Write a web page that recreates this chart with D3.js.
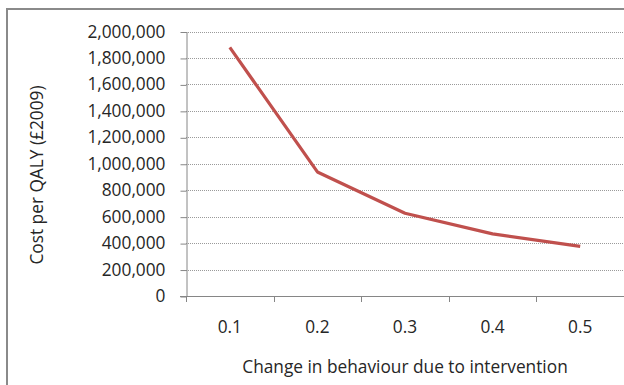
<!DOCTYPE html>
<html>
<head>
<meta charset="utf-8">
<script src="https://cdn.jsdelivr.net/npm/d3@7"></script>
<style>
  html, body { margin: 0; padding: 0; background: #fff; }
  svg { display: block; }
  text { font-family: "Open Sans", Lato, sans-serif; fill: #262626; }
</style>
</head>
<body>
<svg id="chart" width="624" height="385"></svg>
<script>
// Change in behaviour due to intervention (category axis)
const categories = ["0.1", "0.2", "0.3", "0.4", "0.5"];
// Cost per QALY, £2009
const costPerQaly = [1880000, 938000, 626000, 470000, 375000];
// Value axis ticks
const yTicks = [0, 200000, 400000, 600000, 800000, 1000000, 1200000, 1400000, 1600000, 1800000, 2000000];

const svg = d3.select("#chart");
const plot = { left: 186, right: 624, top: 31.5, bottom: 296 };
const fontSize = "17.3px";

// Outer chart frame
svg.append("rect")
  .attr("x", 7).attr("y", 9)
  .attr("width", 640).attr("height", 400)
  .attr("fill", "none")
  .attr("stroke", "#8a8a8a")
  .attr("stroke-width", 2);

const x = d3.scaleBand().domain(categories).range([plot.left, plot.right]).padding(0);
const y = d3.scaleLinear().domain([0, 2000000]).range([plot.bottom, plot.top]);

// Dotted horizontal gridlines
svg.append("g")
  .selectAll("line")
  .data(yTicks.filter(d => d > 0))
  .join("line")
  .attr("x1", plot.left).attr("x2", plot.right)
  .attr("y1", d => Math.round(y(d)) + 0.5).attr("y2", d => Math.round(y(d)) + 0.5)
  .attr("stroke", "#9a9a9a")
  .attr("stroke-width", 1)
  .attr("stroke-dasharray", "1,1");

// Value axis
const yAxis = svg.append("g")
  .attr("transform", `translate(${plot.left + 0.5},0)`)
  .call(d3.axisLeft(y).tickValues(yTicks).tickFormat(d3.format(",")).tickSize(6).tickPadding(15).tickSizeOuter(0));
yAxis.selectAll(".tick line").attr("stroke", "#868686").attr("transform", "translate(0,0.5)");
yAxis.select(".domain").attr("stroke", "#868686");
yAxis.selectAll("text").style("font-size", fontSize).attr("fill", "#262626").attr("font-family", "Open Sans");

// Category axis: line, boundary ticks, centred labels
const xg = svg.append("g");
xg.append("line")
  .attr("x1", plot.left - 6).attr("x2", plot.right)
  .attr("y1", plot.bottom + 0.5).attr("y2", plot.bottom + 0.5)
  .attr("stroke", "#868686");
const edges = categories.map(c => x(c)).concat([x(categories[categories.length - 1]) + x.bandwidth()]);
xg.selectAll("line.tk")
  .data(edges)
  .join("line")
  .attr("class", "tk")
  .attr("x1", d => Math.round(d) + 0.5).attr("x2", d => Math.round(d) + 0.5)
  .attr("y1", plot.bottom).attr("y2", plot.bottom + 6)
  .attr("stroke", "#868686");
xg.selectAll("text")
  .data(categories)
  .join("text")
  .attr("x", d => x(d) + x.bandwidth() / 2)
  .attr("y", 333)
  .attr("text-anchor", "middle")
  .style("font-size", fontSize)
  .text(d => d);

// Data line
const line = d3.line()
  .x((d, i) => x(categories[i]) + x.bandwidth() / 2)
  .y(d => y(d));
svg.append("path")
  .datum(costPerQaly)
  .attr("d", line)
  .attr("fill", "none")
  .attr("stroke", "#c0504d")
  .attr("stroke-width", 3.2)
  .attr("stroke-linejoin", "round");

// Axis titles
svg.append("text")
  .attr("x", 405).attr("y", 373)
  .attr("text-anchor", "middle")
  .style("font-size", fontSize)
  .text("Change in behaviour due to intervention");

svg.append("text")
  .attr("transform", "translate(43,175) rotate(-90)")
  .attr("text-anchor", "middle")
  .style("font-size", fontSize)
  .text("Cost per QALY (£2009)");
</script>
</body>
</html>
